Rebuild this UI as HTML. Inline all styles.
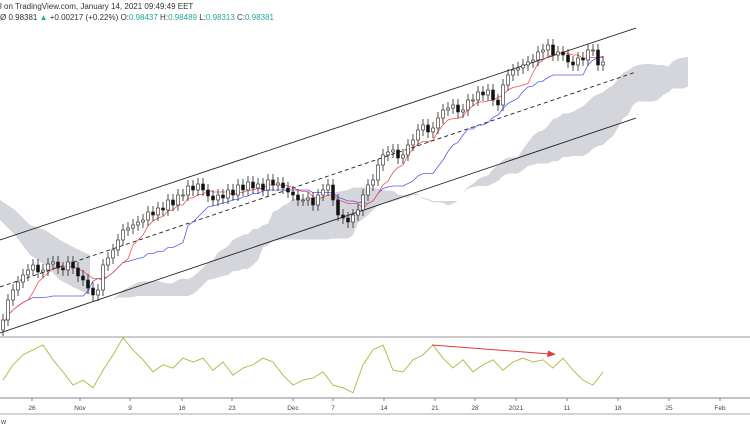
<!DOCTYPE html>
<html><head><meta charset="utf-8"><style>
body{margin:0;width:750px;height:430px;background:#fff;overflow:hidden;font-family:"Liberation Sans",sans-serif}
svg{position:absolute;left:0;top:0}
.hdr{position:absolute;left:0;font-size:8px;color:#333;white-space:nowrap;z-index:2}
.g{color:#26a69a}
</style></head><body>
<div class="hdr" style="top:2px">l on TradingView.com, January 14, 2021 09:49:49 EET</div>
<div class="hdr" style="top:13px">Ø 0.98381 <span class="g">▲</span> +0.00217 (+0.22%) O:<span class="g">0.98437</span> H:<span class="g">0.98489</span> L:<span class="g">0.98313</span> C:<span class="g">0.98381</span></div>
<svg id="c" width="750" height="430"></svg>
<script>
const closes=[0.680,0.700,0.710,0.718,0.725,0.730,0.735,0.728,0.730,0.736,0.738,0.732,0.730,0.738,0.732,0.724,0.720,0.712,0.705,0.710,0.735,0.742,0.750,0.760,0.770,0.772,0.775,0.778,0.780,0.788,0.785,0.792,0.790,0.800,0.795,0.805,0.805,0.814,0.810,0.816,0.810,0.804,0.800,0.805,0.802,0.810,0.805,0.815,0.810,0.818,0.812,0.816,0.810,0.820,0.815,0.817,0.812,0.808,0.805,0.800,0.800,0.802,0.795,0.805,0.810,0.815,0.800,0.785,0.782,0.778,0.785,0.790,0.805,0.815,0.820,0.835,0.845,0.848,0.850,0.842,0.845,0.855,0.860,0.870,0.875,0.868,0.872,0.882,0.890,0.892,0.895,0.888,0.890,0.900,0.900,0.908,0.905,0.910,0.900,0.895,0.915,0.925,0.930,0.932,0.935,0.938,0.940,0.948,0.950,0.955,0.945,0.948,0.945,0.938,0.935,0.942,0.940,0.950,0.950,0.935,0.938];
const osc=[27,55,73,82,91,64,42,18,27,13,45,73,104,82,64,42,55,49,67,60,67,45,60,36,49,55,67,60,36,18,27,31,42,18,13,4,55,82,91,45,42,64,73,91,67,49,64,42,55,64,45,60,67,60,64,49,67,45,27,18,42];
const earlyCloudTop=[0.800,0.790,0.775,0.770,0.760,0.752,0.745];
const earlyCloudBot=[0.780,0.765,0.745,0.735,0.720,0.712,0.705];
const xLabels=["26","Nov","9","16","23","Dec","7","14","21","28","2021","11","18","25","Feb"];
const xLabelPos=[32,80,130,182,232,293,333,384,435,475,516,567,618,669,720];
const channelUpper=[0.760,0.972],channelMid=[0.713,0.928],channelLower=[0.667,0.882];
const svg=document.getElementById('c'),NS='http://www.w3.org/2000/svg';
const X0=3,STEP=5,yP=p=>1000*(1-p),xI=i=>X0+i*STEP;
const oY=v=>395-v*0.55,oX=i=>X0+i*10;
function mk(t,a,parent){const e=document.createElementNS(NS,t);for(const k in a)e.setAttribute(k,a[k]);(parent||svg).appendChild(e);return e;}
const hi=[],lo=[];
closes.forEach((c,i)=>{const o=i?closes[i-1]:c-0.01;hi.push(Math.max(o,c)+0.006);lo.push(Math.min(o,c)-0.006);});
function mid(i,n){let h=-1,l=9;for(let k=Math.max(0,i-n+1);k<=i;k++){h=Math.max(h,hi[k]);l=Math.min(l,lo[k]);}return (h+l)/2;}
const ten=closes.map((c,i)=>mid(i,6)),kij=closes.map((c,i)=>mid(i,17)),D=17;
const sa=[],sb=[];closes.forEach((c,i)=>{sa.push((ten[i]+kij[i])/2);sb.push(mid(i,34));});
let cloudTop='',cloudBot='';
for(let i=0;i<closes.length;i++){cloudTop+=(i?'L':'M')+xI(i+D)+','+yP(sa[i]);}
for(let i=closes.length-1;i>=0;i--){cloudBot+='L'+xI(i+D)+','+yP(sb[i]);}
const cloud=mk('path',{d:cloudTop+cloudBot+'Z',fill:'#d5d6db',stroke:'none'});


let eT='',eB='';
earlyCloudTop.forEach((v,i)=>{eT+=(i?'L':'M')+(i*15)+','+yP(v);});
for(let i=earlyCloudBot.length-1;i>=0;i--){eB+='L'+(i*15)+','+yP(earlyCloudBot[i]);}
const ec=mk('path',{d:eT+eB+'Z',fill:'#d5d6db'});


[[channelUpper,'','channel-upper'],[channelMid,'4,3','channel-middle'],[channelLower,'','channel-lower']].forEach(([c,d,n])=>{
const l=mk('line',{x1:0,y1:yP(c[0]),x2:636,y2:yP(c[1]),stroke:'#222','stroke-width':0.9,'stroke-dasharray':d});

});
const pl=(arr,col,n)=>{const p=mk('polyline',{points:arr.map((v,i)=>xI(i)+','+yP(v)).join(' '),fill:'none',stroke:col,'stroke-width':0.8});

};
pl(kij,'#5b5bf0','kijun-line');pl(ten,'#f05050','tenkan-line');
closes.forEach((c,i)=>{const o=i?closes[i-1]:c-0.01,x=xI(i),up=c>=o;
const w=mk('line',{x1:x,x2:x,y1:yP(hi[i]),y2:yP(lo[i]),stroke:'#222','stroke-width':0.8});


const b=mk('rect',{x:x-1.5,width:3,y:yP(Math.max(o,c)),height:Math.max(1,Math.abs(yP(o)-yP(c))),fill:up?'#fff':'#111',stroke:'#222','stroke-width':0.6});

});
const sep=mk('line',{x1:0,x2:750,y1:337,y2:337,stroke:'#999','stroke-width':1});


const op=mk('polyline',{points:osc.map((v,i)=>oX(i)+','+oY(v)).join(' '),fill:'none',stroke:'#b2b53c','stroke-width':0.9});


const ar=mk('line',{x1:432,y1:345,x2:550,y2:354,stroke:'#e53935','stroke-width':1});


const ah=mk('polygon',{points:'556,354.5 548,350.5 547,357',fill:'#e53935'});


const ax=mk('line',{x1:0,x2:750,y1:398,y2:398,stroke:'#888','stroke-width':1});


const ax2=mk('line',{x1:0,x2:750,y1:414,y2:414,stroke:'#aaa','stroke-width':1});


xLabels.forEach((t,i)=>{const x=xLabelPos[i];
const tk=mk('line',{x1:x,x2:x,y1:398,y2:401,stroke:'#888'});


const tx=mk('text',{x:x,y:410,'font-size':6.5,'text-anchor':'middle',fill:'#444','font-family':'Liberation Sans,sans-serif'});tx.textContent=t;

});
const wt=mk('text',{x:1,y:424,'font-size':7,fill:'#444'});wt.textContent='w';


</script>
</body></html>
